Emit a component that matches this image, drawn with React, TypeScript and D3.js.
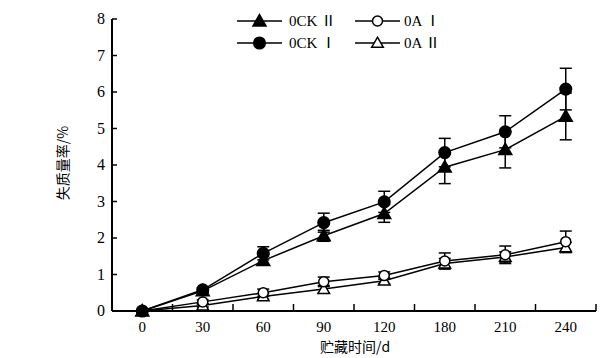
import React from "react";
import * as d3 from "d3";

const categories = ["0", "30", "60", "90", "120", "180", "210", "240"];
const yTicks = [0, 1, 2, 3, 4, 5, 6, 7, 8];

const ock1 = [0, 0.58, 1.58, 2.42, 2.99, 4.34, 4.91, 6.08];
const ock1Err = [0, 0.06, 0.18, 0.26, 0.29, 0.39, 0.44, 0.57];
const ock2 = [0, 0.55, 1.38, 2.06, 2.67, 3.94, 4.42, 5.33];
const ock2Err = [0, 0.05, 0.12, 0.15, 0.24, 0.45, 0.5, 0.64];
const oa1 = [0, 0.25, 0.5, 0.8, 0.97, 1.37, 1.54, 1.9];
const oa1Err = [0, 0.05, 0.1, 0.13, 0.1, 0.22, 0.24, 0.29];
const oa2 = [0, 0.15, 0.4, 0.6, 0.83, 1.3, 1.48, 1.74];
const oa2Err = [0, 0.04, 0.08, 0.1, 0.08, 0.14, 0.14, 0.14];

type Series = { prefix: string; numeral: string; values: number[]; err: number[]; shape: "circle" | "triangle"; filled: boolean };

const series: Series[] = [
  { prefix: "0A ", numeral: "Ⅱ", values: oa2, err: oa2Err, shape: "triangle", filled: false },
  { prefix: "0A ", numeral: "Ⅰ", values: oa1, err: oa1Err, shape: "circle", filled: false },
  { prefix: "0CK ", numeral: "Ⅱ", values: ock2, err: ock2Err, shape: "triangle", filled: true },
  { prefix: "0CK ", numeral: "Ⅰ", values: ock1, err: ock1Err, shape: "circle", filled: true },
];

const serif = "Liberation Serif, Times New Roman, DejaVu Serif, serif";
const cjk = "Noto Sans CJK SC, sans-serif";

function Marker({ cx, cy, shape, filled }: { cx: number; cy: number; shape: string; filled: boolean }) {
  const fill = filled ? "#000" : "#fff";
  if (shape === "circle") {
    return <circle cx={cx} cy={cy} r={filled ? 5.8 : 5} fill={fill} stroke="#000" strokeWidth={1.5} />;
  }
  const s = filled ? 6.5 : 5.8;
  const p = `${cx},${cy - s} ${cx + s},${cy + s * 0.75} ${cx - s},${cy + s * 0.75}`;
  return <polygon points={p} fill={fill} stroke="#000" strokeWidth={1.5} />;
}

export default function App() {
  const W = 609, H = 358;
  const left = 112, right = 596, top = 19, bottom = 311;
  const x = d3.scaleBand<string>().domain(categories).range([left, right]).padding(0);
  const y = d3.scaleLinear().domain([0, 8]).range([bottom, top]);
  const cx = (c: string) => (x(c) as number) + x.bandwidth() / 2;
  const line = d3.line<number>().x((_, i) => cx(categories[i])).y((v) => y(v));

  const legend = [
    { s: series[2], lx: 237, ly: 21, tx: 289 },
    { s: series[3], lx: 237, ly: 43, tx: 289 },
    { s: series[1], lx: 355, ly: 21, tx: 404 },
    { s: series[0], lx: 355, ly: 43, tx: 404 },
  ];

  return (
    <svg width={W} height={H} style={{ position: "absolute", left: 0, top: 0, background: "#fff" }}>
      <rect width={W} height={H} fill="#fff" />
      <line x1={left} y1={top} x2={left} y2={bottom} stroke="#000" strokeWidth={2} />
      <line x1={left} y1={bottom} x2={right} y2={bottom} stroke="#000" strokeWidth={2} />
      {yTicks.map((t) => (
        <g key={t}>
          <line x1={left} x2={left + 5} y1={y(t)} y2={y(t)} stroke="#000" strokeWidth={1.5} />
          <text x={left - 7} y={y(t) + 5} textAnchor="end" style={{ fontFamily: serif, fontSize: 16 }}>{t}</text>
        </g>
      ))}
      {categories.map((c) => (
        <g key={c}>
          <line x1={(x(c) as number) + x.bandwidth()} x2={(x(c) as number) + x.bandwidth()} y1={bottom} y2={bottom - 7} stroke="#000" strokeWidth={1.5} />
          <text x={cx(c)} y={bottom + 21} textAnchor="middle" style={{ fontFamily: serif, fontSize: 15 }}>{c}</text>
        </g>
      ))}
      <text x={355} y={352} textAnchor="middle" style={{ fontFamily: cjk, fontSize: 14 }}>贮藏时间/d</text>
      <text transform={`translate(68,163) rotate(-90)`} textAnchor="middle" style={{ fontFamily: cjk, fontSize: 14 }}>失质量率/%</text>

      {series.map((s) => (
        <path key={s.prefix + s.numeral + "l"} d={line(s.values) || ""} fill="none" stroke="#000" strokeWidth={1.5} />
      ))}
      {series.map((s) =>
        s.values.map((v, i) => {
          if (s.err[i] <= 0) return null;
          const px = cx(categories[i]);
          const y1 = y(v + s.err[i]), y2 = y(v - s.err[i]);
          return (
            <g key={s.prefix + s.numeral + "e" + i} stroke="#000" strokeWidth={1.5}>
              <line x1={px} x2={px} y1={y1} y2={y2} />
              <line x1={px - 6} x2={px + 6} y1={y1} y2={y1} />
              <line x1={px - 6} x2={px + 6} y1={y2} y2={y2} />
            </g>
          );
        })
      )}
      {series.map((s) =>
        s.values.map((v, i) => (
          <Marker key={s.prefix + s.numeral + "m" + i} cx={cx(categories[i])} cy={y(v)} shape={s.shape} filled={s.filled} />
        ))
      )}

      {legend.map((l) => (
        <g key={l.s.prefix + l.s.numeral + "lg"}>
          <line x1={l.lx} x2={l.lx + 45} y1={l.ly} y2={l.ly} stroke="#000" strokeWidth={1.5} />
          <Marker cx={l.lx + 22.5} cy={l.ly} shape={l.s.shape} filled={l.s.filled} />
          <text x={l.tx} y={l.ly + 5} style={{ fontFamily: serif, fontSize: 15 }}>
            {l.s.prefix}
            <tspan style={{ fontFamily: cjk, fontSize: 15 }}>{l.s.numeral}</tspan>
          </text>
        </g>
      ))}
    </svg>
  );
}
